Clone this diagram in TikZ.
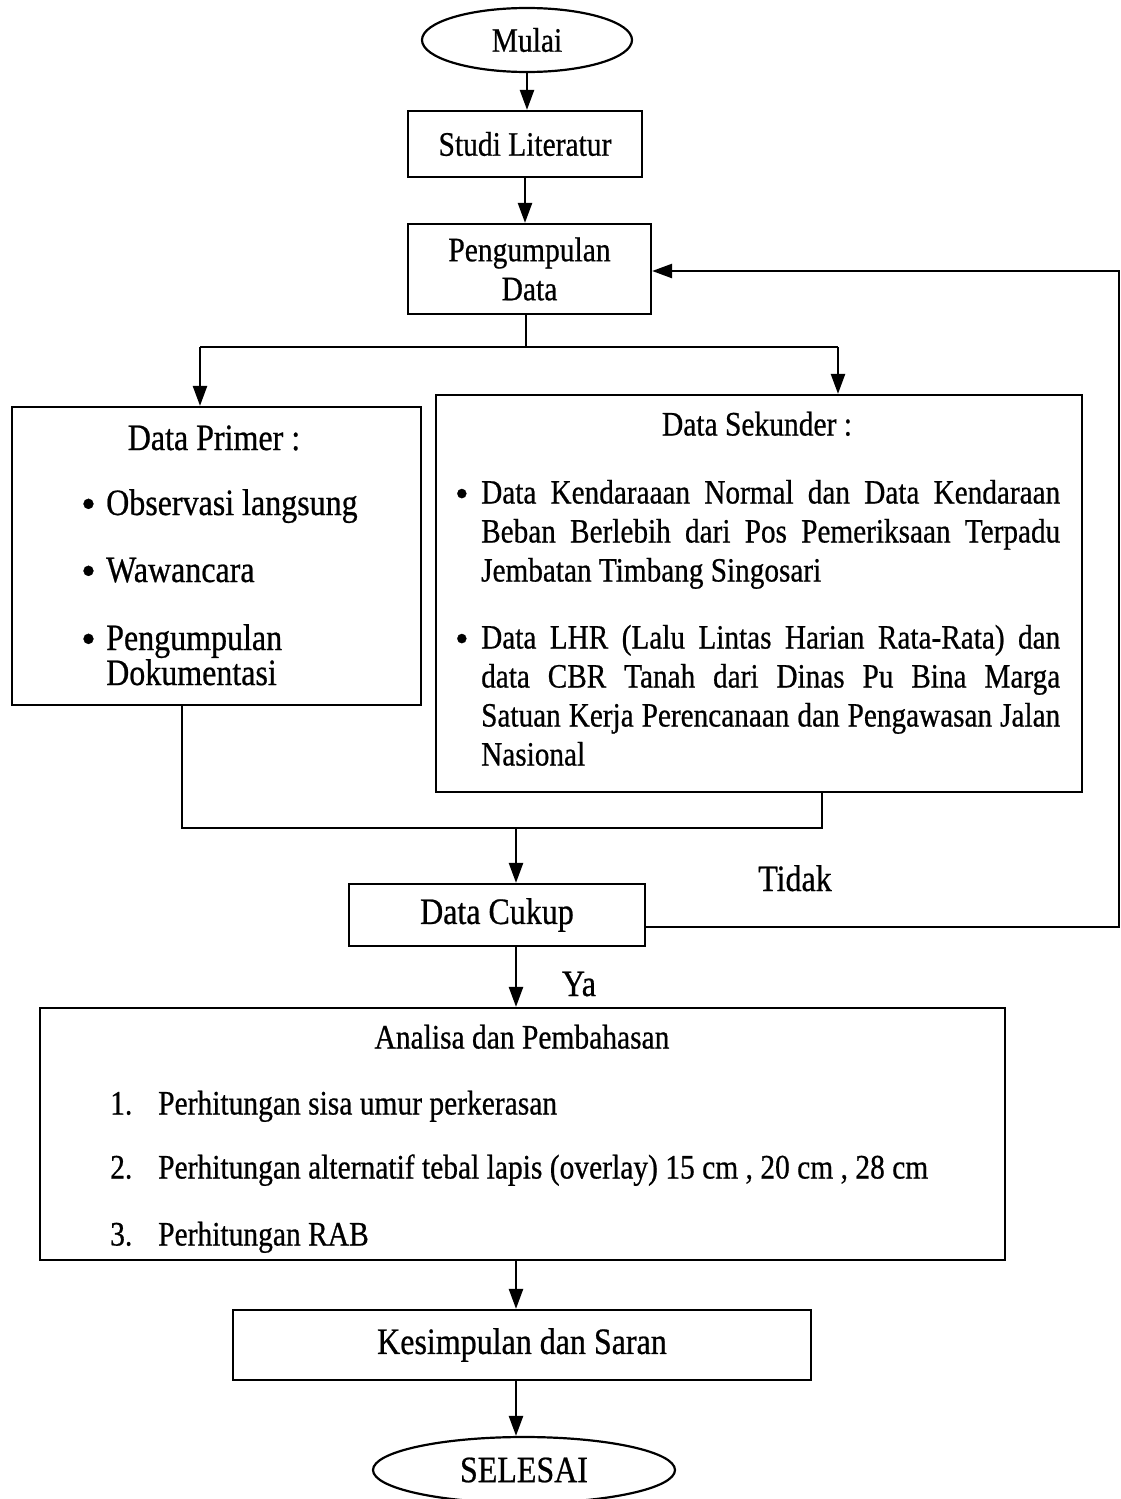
\documentclass[tikz,border=0pt]{standalone}
\usepackage{fontspec}
\setmainfont{Liberation Serif}[FakeStretch=0.86, FakeBold=0.6]
\usetikzlibrary{shapes.geometric,arrows.meta}
\newcommand\fA{\fontsize{34.3}{39}\selectfont}
\newcommand\fB{\fontsize{37.2}{35}\selectfont}
\newcommand\fS{\fontsize{34}{39}\selectfont}
\newcommand\bul{\raisebox{-3pt}{\scalebox{1.3}[1.15]{•}}}
\tikzset{
  box/.style={draw, line width=2.2pt, inner sep=0pt, font=\fA, align=center},
  term/.style={ellipse, draw, line width=2.2pt, inner sep=0pt, font=\fA},
  conn/.style={line width=2.4pt},
  arr/.style={line width=2.4pt, -{Triangle[width=14pt,length=20pt]}},
  txt/.style={inner sep=0pt, text height=23pt, text depth=0pt, font=\fA},
  txtB/.style={inner sep=0pt, text height=24pt, text depth=0pt, font=\fB},
  txtS/.style={inner sep=0pt, text height=23pt, text depth=0pt, font=\fS, anchor=west},
}
\begin{document}
\begin{tikzpicture}[x=1pt,y=-1pt]
\useasboundingbox[fill=white] (0,0) rectangle (1121,1499);

% terminals and boxes
\node[term, minimum width=210, minimum height=64] (mulai) at (527,40) {Mulai};
\node[box, minimum width=234, minimum height=66] (studi) at (525,144) {Studi Literatur};
\node[box, minimum width=243, minimum height=90] (pd) at (529.5,269) {Pengumpulan\\Data};
\node[box, minimum width=409, minimum height=298] (dp) at (216.5,556) {};
\node[box, minimum width=646, minimum height=397] (ds) at (759,593.5) {};
\node[box, minimum width=296, minimum height=62, font=\fB] (dc) at (497,915) {Data Cukup};
\node[box, minimum width=965, minimum height=252] (an) at (522.5,1134) {};
\node[box, minimum width=578, minimum height=70, font=\fB] (ks) at (522,1345) {Kesimpulan dan Saran};
\node[term, minimum width=302, minimum height=66, font=\fB] (sel) at (524,1470) {SELESAI};

% Data Primer contents
\node[txtB] (dpt) at (214,438) {Data Primer :};
\node[txtB, anchor=west] (dp1) at (81,503) {\makebox[25pt][l]{\bul}Observasi langsung};
\node[txtB, anchor=west] (dp2) at (81,570) {\makebox[25pt][l]{\bul}Wawancara};
\node[inner sep=0pt, font=\fB, align=left, anchor=north west] (dp3) at (81,624)
  {\makebox[25pt][l]{\bul}Pengumpulan\\\hspace*{25pt}Dokumentasi};

% Data Sekunder contents
\node[txt] (dst) at (757,424) {Data Sekunder :};
\node[txtS] (s1) at (455,492) {\makebox[26pt][l]{\bul}\makebox[579pt][s]{Data Kendaraaan Normal dan Data Kendaraan}};
\node[txtS] (s2) at (481,531) {\makebox[579pt][s]{Beban Berlebih dari Pos Pemeriksaan Terpadu}};
\node[txtS] (s3) at (481,570) {Jembatan Timbang Singosari};
\node[txtS] (s4) at (455,637) {\makebox[26pt][l]{\bul}\makebox[579pt][s]{Data LHR (Lalu Lintas Harian Rata-Rata) dan}};
\node[txtS] (s5) at (481,676) {\makebox[579pt][s]{data CBR Tanah dari Dinas Pu Bina Marga}};
\node[txtS] (s6) at (481,715) {\makebox[579pt][s]{Satuan Kerja Perencanaan dan Pengawasan Jalan}};
\node[txtS] (s7) at (481,754) {Nasional};

% Analisa contents
\node[txt] (ant) at (522,1037) {Analisa dan Pembahasan};
\node[txt, anchor=west] (a1) at (110,1103) {\makebox[48pt][l]{1.}Perhitungan sisa umur perkerasan};
\node[txt, anchor=west] (a2) at (110,1167) {\makebox[48pt][l]{2.}Perhitungan alternatif tebal lapis (overlay) 15 cm , 20 cm , 28 cm};
\node[txt, anchor=west] (a3) at (110,1234) {\makebox[48pt][l]{3.}Perhitungan RAB};

% labels
\node[txtB] (tidak) at (795,879) {Tidak};
\node[txtB] (ya) at (579,984) {Ya};

% junction coordinates
\coordinate (j1) at (526,347);
\coordinate (jl) at (200,347);
\coordinate (jr) at (838,347);
\coordinate (ml) at (182,828);
\coordinate (mr) at (822,828);
\coordinate (mc) at (516,828);
\coordinate (f1) at (1119,927);
\coordinate (f2) at (1119,271);

% connectors
\draw[arr] (mulai.south) -- (mulai.south |- studi.north);
\draw[arr] (studi.south) -- (studi.south |- pd.north);
\draw[conn] (pd.south -| j1) -- (j1);
\draw[conn] (jl) -- (jr);
\draw[arr] (jl) -- (jl |- dp.north);
\draw[arr] (jr) -- (jr |- ds.north);
\draw[conn] (dp.south -| ml) -- (ml) -- (mr) -- (ds.south -| mr);
\draw[arr] (mc) -- (mc |- dc.north);
\draw[arr] (dc.east |- f1) -- (f1) -- (f2) -- (pd.east |- f2);
\draw[arr] (dc.south -| mc) -- (mc |- an.north);
\draw[arr] (an.south -| mc) -- (mc |- ks.north);
\draw[arr] (ks.south -| mc) -- (mc |- sel.north);
\end{tikzpicture}
\end{document}
